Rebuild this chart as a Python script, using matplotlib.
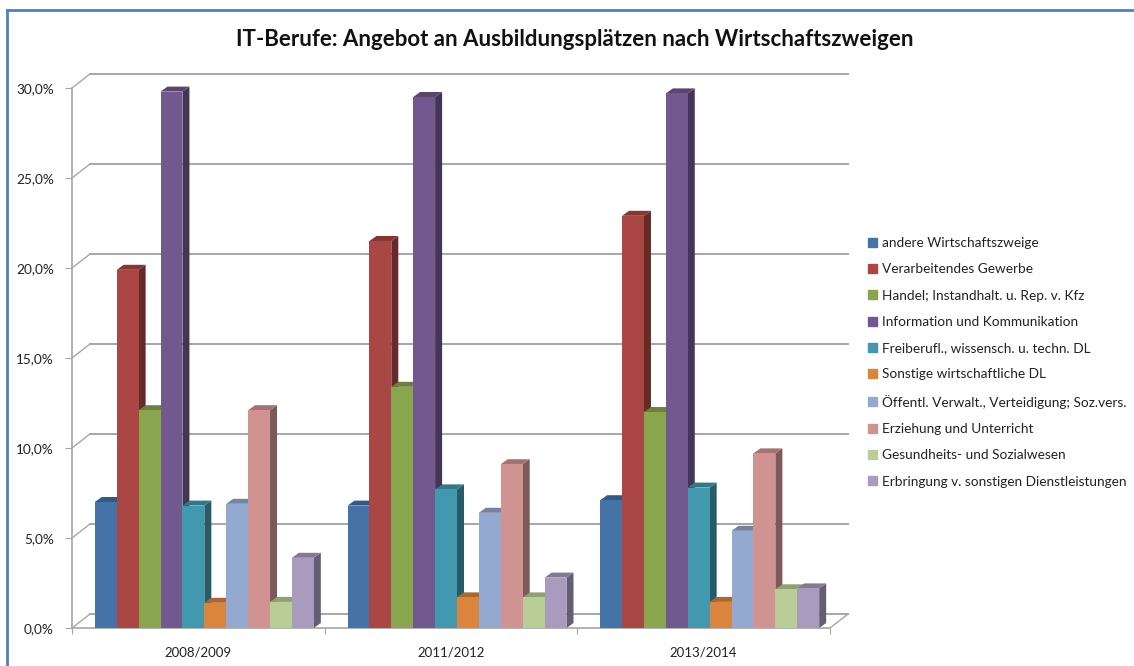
import numpy as np
import matplotlib
matplotlib.use("Agg")
import matplotlib.pyplot as plt
from matplotlib.patches import Polygon
from matplotlib.lines import Line2D
from matplotlib.colors import to_rgb

plt.rcParams['font.family'] = ['Lato', 'DejaVu Sans']

# data (share of training places in %)
years = ["2008/2009", "2011/2012", "2013/2014"]
branches = ["andere Wirtschaftszweige",
            "Verarbeitendes Gewerbe",
            "Handel; Instandhalt. u. Rep. v. Kfz",
            "Information und Kommunikation",
            "Freiberufl., wissensch. u. techn. DL",
            "Sonstige wirtschaftliche DL",
            "Öffentl. Verwalt., Verteidigung; Soz.vers.",
            "Erziehung und Unterricht",
            "Gesundheits- und Sozialwesen",
            "Erbringung v. sonstigen Dienstleistungen"]
andere = [7.0, 6.8, 7.1]
verarbeitend = [19.9, 21.5, 22.9]
handel = [12.1, 13.4, 12.0]
information = [29.8, 29.5, 29.7]
freiberufl = [6.8, 7.7, 7.8]
sonstige_dl = [1.4, 1.7, 1.45]
oeffentl = [6.9, 6.4, 5.4]
erziehung = [12.1, 9.1, 9.7]
gesundheit = [1.45, 1.7, 2.15]
erbringung = [3.9, 2.8, 2.2]
series = [andere, verarbeitend, handel, information, freiberufl,
          sonstige_dl, oeffentl, erziehung, gesundheit, erbringung]
y_ticks = [0, 5, 10, 15, 20, 25, 30]

colors = ["#4572A7", "#AA4643", "#89A54E", "#71588F", "#4198AF",
          "#DB843D", "#93A9CF", "#D19392", "#B9CD96", "#A99BBD"]

W, H = 1134, 666
fig = plt.figure(figsize=(W / 100, H / 100), dpi=100)
fig.patch.set_facecolor("white")

# front plane of the plot in pixels
left_px, right_px, bottom_px, top_px = 72, 830, 628, 88
ax = fig.add_axes([left_px / W, (H - bottom_px) / H,
                   (right_px - left_px) / W, (bottom_px - top_px) / H])
ax.set_xlim(-0.5, 2.5)
ax.set_ylim(0, 30)

px_x = (right_px - left_px) / 3.0       # pixels per category
px_y = (bottom_px - top_px) / 30.0      # pixels per percent

# depth of walls and bars, in pixels -> data units
wall_dx, wall_dy = 18 / px_x, 14 / px_y
bar_dx, bar_dy = 7 / px_x, 5 / px_y
bar_w = 21.9 / px_x
shift = 6 / px_x

grid_c = "#a6a6a6"
# back wall gridlines + connectors to the front axis
for v in y_ticks:
    ax.plot([-0.5 + wall_dx, 2.5 + wall_dx], [v + wall_dy, v + wall_dy],
            color=grid_c, lw=1.4, clip_on=False, zorder=1)
    ax.plot([-0.5, -0.5 + wall_dx], [v, v + wall_dy],
            color=grid_c, lw=1.0, clip_on=False, zorder=1)
ax.plot([2.5, 2.5 + wall_dx], [0, wall_dy], color=grid_c, lw=1.0,
        clip_on=False, zorder=1)


def shade(c, f):
    r, g, b = to_rgb(c)
    return (r * f, g * f, b * f)


# bars with top and side faces
n = len(series)
z = 3
for j in range(len(years)):
    for i in range(n):
        v = series[i][j]
        x0 = j + shift + (i - n / 2) * bar_w
        x1 = x0 + bar_w
        ax.bar(x0, v, width=bar_w, align="edge", color=colors[i],
               edgecolor="none", zorder=z)
        side = Polygon([[x1, 0], [x1 + bar_dx, bar_dy], [x1 + bar_dx, v + bar_dy], [x1, v]],
                       closed=True, facecolor=shade(colors[i], 0.6), edgecolor="none",
                       zorder=z - 0.5, clip_on=False)
        top = Polygon([[x0, v], [x0 + bar_dx, v + bar_dy], [x1 + bar_dx, v + bar_dy], [x1, v]],
                      closed=True, facecolor=shade(colors[i], 0.78), edgecolor="none",
                      zorder=z - 0.5, clip_on=False)
        ax.add_patch(side)
        ax.add_patch(top)
        z += 1

# axes styling
for s in ["top", "right"]:
    ax.spines[s].set_visible(False)
for s in ["left", "bottom"]:
    ax.spines[s].set_color(grid_c)
    ax.spines[s].set_linewidth(1.2)
ax.set_facecolor("none")
ax.set_yticks(y_ticks)
ax.set_yticklabels([f"{t:.1f}%".replace(".", ",") for t in y_ticks])
ax.tick_params(axis="y", length=5, color=grid_c, pad=8, labelsize=9.8,
               labelcolor="#222222")
ax.set_xticks([-0.5, 0.5, 1.5, 2.5])
ax.set_xticklabels([])
ax.tick_params(axis="x", length=4, color=grid_c)
ax.set_xticks([0, 1, 2], minor=True)
ax.set_xticklabels(years, minor=True)
ax.tick_params(axis="x", which="minor", length=0, pad=13, labelsize=9.5,
               labelcolor="#222222")

# title
fig.text(575 / W, 1 - 40 / H, "IT-Berufe: Angebot an Ausbildungsplätzen nach Wirtschaftszweigen",
         ha="center", va="center", fontsize=16, fontweight="bold", color="#111111")

# legend
handles = [plt.Rectangle((0, 0), 1, 1, color=c) for c in colors]
fig.legend(handles, branches, loc="upper left",
           bbox_to_anchor=(868 / W, 1 - 237 / H), frameon=False,
           fontsize=9.8, handlelength=0.65, handleheight=0.65,
           handletextpad=0.4, labelspacing=1.05, borderpad=0, borderaxespad=0,
           labelcolor="#222222")

# blue border of the chart area
fig.add_artist(Line2D([7 / W, 7 / W], [0, 1 - 10 / H], color="#4F81BD", lw=2))
fig.add_artist(Line2D([7 / W, 1], [1 - 10 / H, 1 - 10 / H], color="#4F81BD", lw=2))

fig.savefig("out.png", dpi=100)
